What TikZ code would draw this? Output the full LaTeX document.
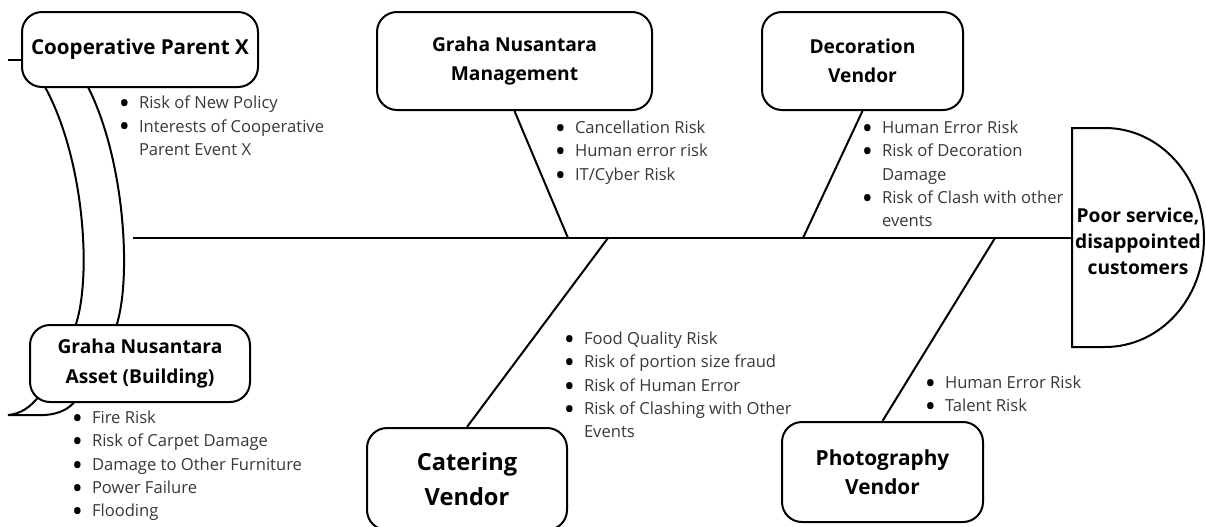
\documentclass[tikz,border=0pt]{standalone}
\usepackage{fontspec}
\setmainfont{Open Sans}
\definecolor{risktext}{HTML}{383838}
\newcommand{\rb}{\makebox[9.5pt][l]{\raisebox{-1.4pt}{\textcolor{black}{\fontsize{11.5}{11.65}\selectfont\bfseries •}}}}
\newcommand{\rc}{\hphantom{\rb}}

\begin{document}
\begin{tikzpicture}[x=0.5pt, y=-0.5pt, line width=1pt,
    cause/.style={draw, rounded corners=10pt, fill=white, align=center, inner sep=0pt},
    risks/.style={anchor=north west, align=left, inner sep=0pt, text=risktext,
        font=\fontsize{8.3}{11.65}\selectfont}]
    \useasboundingbox (0,0) rectangle (1206,526);

    % Tail of the fish
    \draw (45,87) .. controls (85,160) and (92,280) .. (75,327);
    \draw (88,87) .. controls (125,160) and (132,280) .. (116,327);
    \draw (8,60) -- (24,60);
    \draw (40,395) .. controls (30,408) and (20,414) .. (8,415) -- (45,415)
        .. controls (60,414) and (70,408) .. (75,401);

    % Spine and head
    \coordinate (tail) at (133,238);
    \coordinate (neck) at (1072,238);
    \coordinate (jm) at (568,238);
    \coordinate (jd) at (803,238);
    \coordinate (jc) at (608,238);
    \coordinate (jp) at (995,238);
    \draw (tail) -- (neck);
    \draw (1072,128) -- (1105,128) .. controls (1160,128) and (1204,177) .. (1204,238)
        .. controls (1204,299) and (1160,347) .. (1105,347) -- (1072,347) -- cycle;
    \node[align=center, font=\fontsize{9.6}{13}\selectfont\bfseries] (effect) at (1138,241)
        {Poor service,\\disappointed\\customers};

    % Causes
    \node[cause, minimum width=118pt, minimum height=37.5pt,
        font=\fontsize{10.3}{14}\selectfont\bfseries] (coop) at (140,49.5) {Cooperative Parent X};
    \node[cause, minimum width=137.5pt, minimum height=49pt,
        font=\fontsize{9.6}{14.5}\selectfont\bfseries] (mgmt) at (514.5,61) {Graha Nusantara\\Management};
    \node[cause, minimum width=100.5pt, minimum height=49pt,
        font=\fontsize{9.6}{14.5}\selectfont\bfseries] (deco) at (862.5,61) {Decoration\\Vendor};
    \node[cause, minimum width=110pt, minimum height=38.5pt,
        font=\fontsize{9.6}{15}\selectfont\bfseries] (asset) at (140,363.5) {Graha Nusantara\\Asset (Building)};
    \node[cause, minimum width=100pt, minimum height=51pt,
        font=\fontsize{11.8}{17.5}\selectfont\bfseries] (cater) at (467,479) {Catering\\Vendor};
    \node[cause, minimum width=100.5pt, minimum height=50pt,
        font=\fontsize{10.4}{14.5}\selectfont\bfseries] (photo) at (882.5,472) {Photography\\Vendor};

    % Bones
    \draw (mgmt.south) -- (jm);
    \draw (deco.south) -- (jd);
    \draw (cater.north) -- (jc);
    \draw (photo.north) -- (jp);

    % Risk lists
    \node[risks] (coopR) at (119,95) {\rb Risk of New Policy\\\rb Interests of Cooperative\\\rc Parent Event X};
    \node[risks] (mgmtR) at (555,120) {\rb Cancellation Risk\\\rb Human error risk\\\rb IT/Cyber Risk};
    \node[risks] (decoR) at (862,120) {\rb Human Error Risk\\\rb Risk of Decoration\\\rc Damage\\\rb Risk of Clash with other\\\rc events};
    \node[risks] (assetR) at (72,410) {\rb Fire Risk\\\rb Risk of Carpet Damage\\\rb Damage to Other Furniture\\\rb Power Failure\\\rb Flooding};
    \node[risks] (caterR) at (564,331) {\rb Food Quality Risk\\\rb Risk of portion size fraud\\\rb Risk of Human Error\\\rb Risk of Clashing with Other\\\rc Events};
    \node[risks] (photoR) at (925,375) {\rb Human Error Risk\\\rb Talent Risk};

\end{tikzpicture}
\end{document}
